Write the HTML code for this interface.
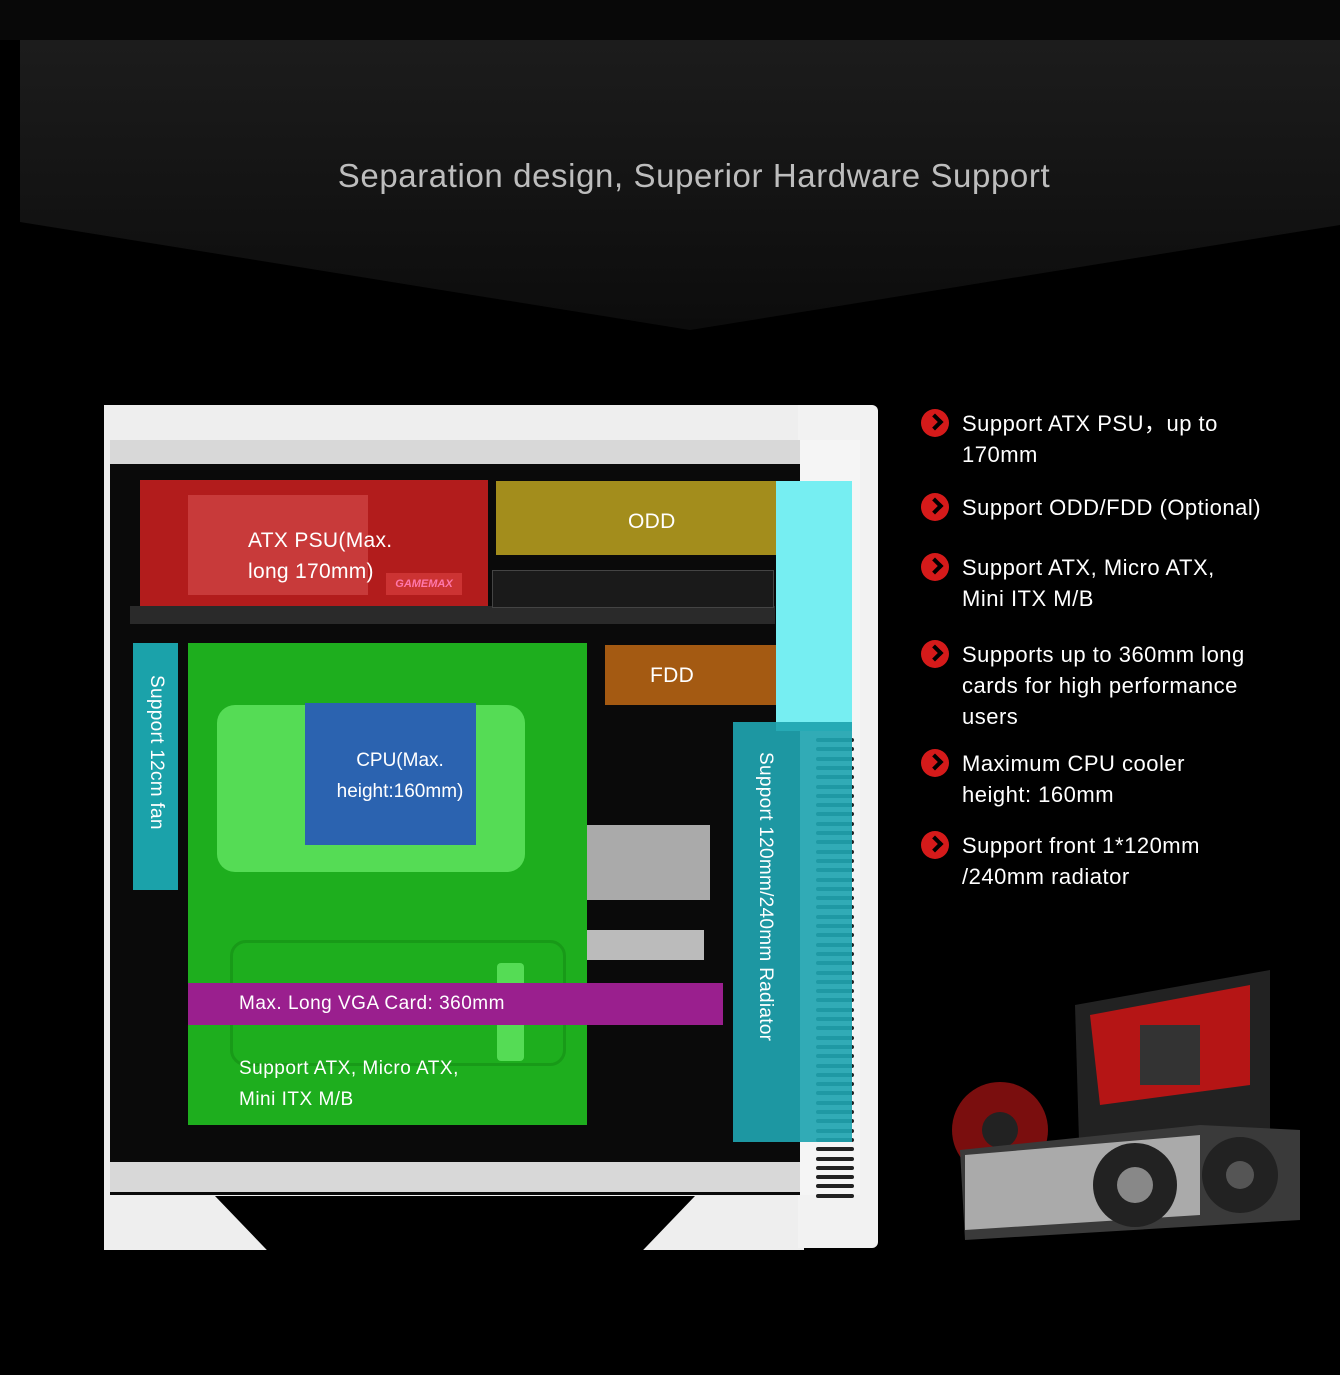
<!DOCTYPE html>
<html><head><meta charset="utf-8"><style>
body{margin:0;background:#000;}
#r{position:relative;width:1340px;height:1375px;overflow:hidden;background:#000;font-family:"Liberation Sans",sans-serif;}
.a{position:absolute;}
.t{color:#fff;font-size:21px;line-height:31px;letter-spacing:.3px;}
.li{position:absolute;left:962px;color:#fff;font-size:22px;line-height:31px;letter-spacing:.5px;}
.ic{position:absolute;left:921px;width:28px;height:28px;border-radius:50%;background:#d51a1a;}
.ic:after{content:"";position:absolute;left:8px;top:7px;width:8px;height:8px;border-right:4px solid #000;border-top:4px solid #000;transform:rotate(45deg);}
.vent{position:absolute;left:816px;width:38px;height:4px;background:#222;border-radius:2px;}
</style></head><body><div id="r">
<svg class="a" style="left:0;top:0" width="1340" height="340">
<defs><linearGradient id="g" x1="0" y1="0" x2="0" y2="1"><stop offset="0" stop-color="#1c1c1c"/><stop offset="1" stop-color="#0c0c0c"/></linearGradient></defs>
<rect x="0" y="0" width="1340" height="40" fill="#080808"/>
<polygon points="20,40 1340,40 1340,225 690,330 20,222" fill="url(#g)"/>
</svg>
<div class="a" style="left:0;width:1388px;top:157px;text-align:center;color:#bdbdbd;font-size:33px;letter-spacing:.6px;">Separation design, Superior Hardware Support</div>

<!-- case -->
<div class="a" style="left:104px;top:405px;width:700px;height:845px;background:#eee;"></div>
<div class="a" style="left:798px;top:405px;width:80px;height:843px;background:#f2f2f2;border-radius:0 6px 6px 0;"></div>
<div class="a" style="left:110px;top:440px;width:690px;height:755px;background:#0a0a0a;"></div>
<div class="a" style="left:110px;top:440px;width:690px;height:24px;background:#d8d8d8;"></div>
<div class="a" style="left:110px;top:1162px;width:690px;height:30px;background:#d8d8d8;"></div>
<div class="a" style="left:215px;top:1196px;width:480px;height:60px;background:#000;clip-path:polygon(0 0,100% 0,88% 100%,12% 100%);"></div>
<div class="a" style="left:130px;top:606px;width:645px;height:18px;background:#2a2a2a;"></div>
<div class="a" style="left:492px;top:570px;width:280px;height:36px;background:#1a1a1a;border:1px solid #444;"></div>
<div class="a" style="left:586px;top:825px;width:124px;height:75px;background:#aaa;"></div>
<div class="a" style="left:586px;top:930px;width:118px;height:30px;background:#bbb;"></div>
<div class="a" style="left:800px;top:440px;width:60px;height:755px;background:#f5f5f5;"></div>
<div id="vents"></div>

<!-- overlays -->
<div class="a" style="left:140px;top:480px;width:348px;height:126px;background:#b21c1c;"></div>
<div class="a" style="left:188px;top:495px;width:180px;height:100px;background:#c83a3a;"></div>
<div class="a" style="left:386px;top:573px;width:76px;height:22px;background:#c33;color:#f7a;font-size:11px;font-style:italic;font-weight:bold;line-height:22px;text-align:center;">GAMEMAX</div>
<div class="a t" style="left:248px;top:525px;">ATX PSU(Max.<br>long 170mm)</div>
<div class="a" style="left:496px;top:481px;width:280px;height:74px;background:#a38d1c;"></div>
<div class="a t" style="left:628px;top:506px;">ODD</div>
<div class="a" style="left:776px;top:481px;width:76px;height:250px;background:#76eef2;"></div>
<div class="a" style="left:733px;top:722px;width:119px;height:420px;background:#1fa4b0;opacity:.92;"></div>
<div class="a" style="left:605px;top:645px;width:171px;height:60px;background:#a45a12;"></div>
<div class="a t" style="left:650px;top:660px;">FDD</div>
<div class="a" style="left:188px;top:643px;width:399px;height:482px;background:#1eae1e;"></div>
<div class="a" style="left:217px;top:705px;width:308px;height:167px;background:#55dc55;border-radius:18px;"></div>
<div class="a" style="left:230px;top:940px;width:330px;height:120px;border:3px solid #189a18;border-radius:16px;"></div>
<div class="a" style="left:497px;top:963px;width:27px;height:98px;background:#55dc55;border-radius:4px;"></div>
<div class="a" style="left:305px;top:703px;width:171px;height:142px;background:#2b63b0;"></div>
<div class="a" style="left:305px;top:745px;width:190px;text-align:center;color:#fff;font-size:19px;line-height:31px;">CPU(Max.<br>height:160mm)</div>
<div class="a" style="left:133px;top:643px;width:45px;height:247px;background:#1ba2aa;"></div>
<div class="a" style="left:133px;top:643px;width:45px;height:247px;"><div style="position:absolute;left:34px;top:32px;transform:rotate(90deg);transform-origin:0 0;color:#fff;font-size:19px;white-space:nowrap;letter-spacing:.3px;">Support 12cm fan</div></div>
<div class="a" style="left:733px;top:722px;width:60px;"><div style="position:absolute;left:43px;top:30px;transform:rotate(90deg);transform-origin:0 0;color:#fff;font-size:19px;white-space:nowrap;letter-spacing:.3px;">Support 120mm/240mm Radiator</div></div>
<div class="a" style="left:188px;top:983px;width:535px;height:42px;background:#9a1f8e;"></div>
<div class="a" style="left:239px;top:993px;color:#fff;font-size:19px;letter-spacing:.5px;">Max. Long VGA Card: 360mm</div>
<div class="a" style="left:239px;top:1053px;color:#fff;font-size:19px;line-height:31px;letter-spacing:.5px;">Support ATX, Micro ATX,<br>Mini ITX M/B</div>

<!-- list -->
<div class="ic" style="top:409px"></div><div class="li" style="top:408px">Support ATX PSU，up to<br>170mm</div>
<div class="ic" style="top:493px"></div><div class="li" style="top:492px">Support ODD/FDD (Optional)</div>
<div class="ic" style="top:553px"></div><div class="li" style="top:552px">Support ATX, Micro ATX,<br>Mini ITX M/B</div>
<div class="ic" style="top:640px"></div><div class="li" style="top:639px">Supports up to 360mm long<br>cards for high performance<br>users</div>
<div class="ic" style="top:749px"></div><div class="li" style="top:748px">Maximum CPU cooler<br>height: 160mm</div>
<div class="ic" style="top:831px"></div><div class="li" style="top:830px">Support front 1*120mm<br>/240mm radiator</div>

<!-- hardware -->
<svg class="a" style="left:950px;top:965px" width="360" height="300">
<polygon points="125,40 320,5 320,200 130,210" fill="#222"/>
<polygon points="140,50 300,20 300,120 150,140" fill="#b51515"/>
<rect x="190" y="60" width="60" height="60" fill="#333"/>
<circle cx="50" cy="165" r="48" fill="#7a0e0e"/><circle cx="50" cy="165" r="18" fill="#222"/>
<polygon points="10,185 250,160 350,165 350,255 15,275" fill="#3a3a3a"/>
<polygon points="15,190 250,170 250,250 15,265" fill="#aaa"/>
<circle cx="185" cy="220" r="42" fill="#222"/><circle cx="185" cy="220" r="18" fill="#888"/>
<circle cx="290" cy="210" r="38" fill="#222"/><circle cx="290" cy="210" r="14" fill="#555"/>
</svg>
<script>
var v=document.getElementById('vents'),h='';for(var y=738;y<1195;y+=9.3)h+='<div class="vent" style="top:'+y+'px"></div>';v.innerHTML=h;
</script>
</div></body></html>
